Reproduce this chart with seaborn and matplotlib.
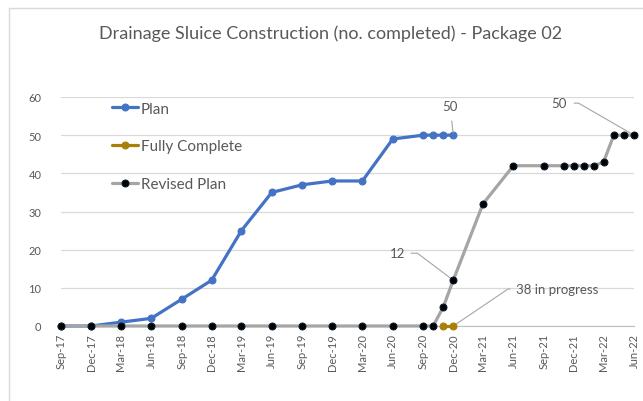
import pandas as pd
import matplotlib.pyplot as plt
from matplotlib.lines import Line2D
import seaborn as sns

sns.set_style("white")
plt.rcParams['font.family'] = ['Lato', 'DejaVu Sans']

# --- data ---
plan_dates = ["2017-09-01", "2017-12-01", "2018-03-01", "2018-06-01", "2018-09-01",
              "2018-12-01", "2019-03-01", "2019-06-01", "2019-09-01", "2019-12-01",
              "2020-03-01", "2020-06-01", "2020-09-01", "2020-10-01", "2020-11-01",
              "2020-12-01"]
plan_values = [0, 0, 1, 2, 7, 12, 25, 35, 37, 38, 38, 49, 50, 50, 50, 50]

complete_dates = ["2020-11-01", "2020-12-01"]
complete_values = [0, 0]

revised_dates = ["2017-09-01", "2017-12-01", "2018-03-01", "2018-06-01", "2018-09-01",
                 "2018-12-01", "2019-03-01", "2019-06-01", "2019-09-01", "2019-12-01",
                 "2020-03-01", "2020-06-01", "2020-09-01", "2020-10-01", "2020-11-01",
                 "2020-12-01", "2021-03-01", "2021-06-01", "2021-09-01", "2021-11-01",
                 "2021-12-01", "2022-01-01", "2022-02-01", "2022-03-01", "2022-04-01",
                 "2022-05-01", "2022-06-01"]
revised_values = [0, 0, 0, 0, 0, 0, 0, 0, 0, 0, 0, 0, 0, 0, 5, 12, 32, 42, 42, 42,
                  42, 42, 42, 43, 50, 50, 50]

tick_dates = pd.date_range("2017-09-01", "2022-06-01", freq="3MS")
tick_labels = [d.strftime("%b-%y") for d in tick_dates]

plan = pd.DataFrame({"date": pd.to_datetime(plan_dates), "value": plan_values})
complete = pd.DataFrame({"date": pd.to_datetime(complete_dates), "value": complete_values})
revised = pd.DataFrame({"date": pd.to_datetime(revised_dates), "value": revised_values})

BLUE = "#4472C4"
GOLD = "#A8800A"
GRAY = "#A5A5A5"
TXT = "#595959"

W, H = 643, 402
fig = plt.figure(figsize=(W / 100, H / 100), dpi=100)
ax = fig.add_axes([61 / W, 1 - 327 / H, (634 - 61) / W, (327 - 98) / H])

sns.lineplot(data=plan, x="date", y="value", ax=ax, color=BLUE, lw=2.3,
             marker="o", markersize=5, markeredgecolor=BLUE, label="Plan",
             clip_on=False, zorder=3)
sns.lineplot(data=complete, x="date", y="value", ax=ax, color=GOLD, lw=2.3,
             marker="o", markersize=5, markeredgecolor=GOLD, label="Fully Complete",
             clip_on=False, zorder=4)
sns.lineplot(data=revised, x="date", y="value", ax=ax, color=GRAY, lw=2.3,
             marker="o", markersize=5, markerfacecolor="black",
             markeredgecolor="#0a1a2a", label="Revised Plan", clip_on=False, zorder=5)
# keep the gold markers above the grey line
ax.lines[1].set_zorder(6)

ax.set_xlim(pd.Timestamp("2017-09-01"), pd.Timestamp("2022-06-01"))
ax.set_ylim(0, 60)
ax.set_yticks(range(0, 61, 10))
ax.set_xticks(tick_dates)
ax.set_xticklabels(tick_labels, rotation=90)
ax.tick_params(axis="x", labelsize=8, colors=TXT, length=0, pad=5)
ax.tick_params(axis="y", labelsize=8, colors=TXT, length=0, pad=14)
ax.set_xlabel("")
ax.set_ylabel("")
ax.grid(axis="y", color="#D9D9D9", lw=0.9)
for s in ["top", "right", "left"]:
    ax.spines[s].set_visible(False)
ax.spines["bottom"].set_color("#BFBFBF")

leg = ax.legend(loc="upper left", bbox_to_anchor=(104 / W, 1 - 95 / H),
                bbox_transform=fig.transFigure, frameon=False, fontsize=11,
                handlelength=1.7, handletextpad=0.2, labelspacing=1.55,
                borderpad=0)
for t in leg.get_texts():
    t.set_color(TXT)

# data labels with leader lines
lab = dict(fontsize=9.5, color=TXT, textcoords="offset pixels")
ax.annotate("50", xy=(plan["date"].iloc[-1], 50), xytext=(-3, 29), ha="center",
            va="center", arrowprops=dict(arrowstyle="-", color="#A6A6A6", lw=0.8,
                                         shrinkA=4, shrinkB=2), **lab)
ax.annotate("12", xy=(revised["date"].iloc[15], 12), xytext=(-56, 27), ha="center",
            va="center", arrowprops=dict(arrowstyle="-", color="#A6A6A6", lw=0.8,
                                         relpos=(1, 0.5), shrinkA=2, shrinkB=2,
                                         connectionstyle="angle,angleA=0,angleB=-37,rad=0"),
            **lab)
ax.annotate("38 in progress", xy=(complete["date"].iloc[-1], 0), xytext=(63, 37),
            ha="left", va="center",
            arrowprops=dict(arrowstyle="-", color="#A6A6A6", lw=0.8, relpos=(0, 0.5),
                            shrinkA=2, shrinkB=2,
                            connectionstyle="angle,angleA=0,angleB=34,rad=0"), **lab)
ax.annotate("50", xy=(revised["date"].iloc[-1], 50), xytext=(-75, 32), ha="center",
            va="center", arrowprops=dict(arrowstyle="-", color="#A6A6A6", lw=0.8,
                                         relpos=(1, 0.5), shrinkA=3, shrinkB=2,
                                         connectionstyle="angle,angleA=0,angleB=-30,rad=0"),
            **lab)

fig.text(331 / W, 1 - 34 / H, "Drainage Sluice Construction (no. completed) - Package 02",
         ha="center", va="center", fontsize=13, color=TXT)

# chart area border (only left and top visible in the crop)
fig.add_artist(Line2D([8.5 / W, 8.5 / W], [0, 1 - 8.5 / H], transform=fig.transFigure,
                      color="#D9D9D9", lw=1))
fig.add_artist(Line2D([8.5 / W, 1], [1 - 8.5 / H, 1 - 8.5 / H], transform=fig.transFigure,
                      color="#D9D9D9", lw=1))

fig.savefig("out.png", dpi=100)
